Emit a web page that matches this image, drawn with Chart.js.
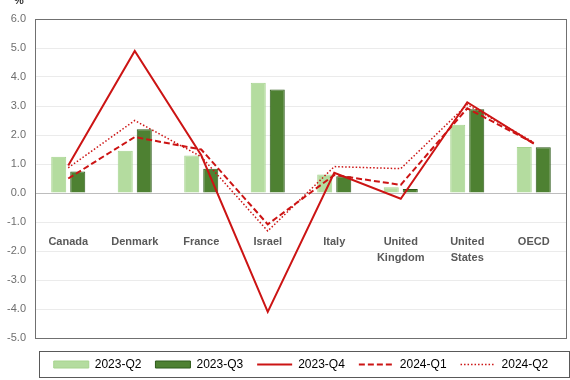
<!DOCTYPE html>
<html><head><meta charset="utf-8">
<script src="https://cdn.jsdelivr.net/npm/chart.js@4/dist/chart.umd.min.js"></script>
<style>html,body{margin:0;padding:0;background:#fff}</style>
</head><body>
<canvas id="c" width="570" height="380"></canvas>
<script>
// ---- data ----
const categories = [["Canada"],["Denmark"],["France"],["Israel"],["Italy"],["United","Kingdom"],["United","States"],["OECD"]];
const seriesNames = ["2023-Q2","2023-Q3","2023-Q4","2024-Q1","2024-Q2"];
const q2_2023 = [1.25, 1.46, 1.29, 3.80, 0.64, 0.20, 2.35, 1.59];
const q3_2023 = [0.74, 2.20, 0.84, 3.57, 0.58, 0.14, 2.89, 1.58];
const q4_2023 = [0.95, 4.90, 1.30, -4.10, 0.70, -0.20, 3.13, 1.70];
const q1_2024 = [0.50, 1.93, 1.50, -1.08, 0.62, 0.28, 2.92, 1.72];
const q2_2024 = [0.87, 2.50, 1.25, -1.31, 0.91, 0.84, 3.05, 1.75];
const yMin = -5, yMax = 6, yStep = 1;
const unitLabel = "%";
const categoryLabelLevel = -1.7;

const GREY = '#595959';
const RED = '#cc1414';

const catLabels = {
  id: 'catLabels',
  beforeDatasetsDraw(chart) {
    const {ctx, scales: {x, y}} = chart;
    ctx.save();
    ctx.font = 'bold 11px "Liberation Sans", Arial, sans-serif';
    ctx.fillStyle = GREY;
    ctx.textAlign = 'center';
    ctx.textBaseline = 'middle';
    const y0 = y.getPixelForValue(categoryLabelLevel);
    categories.forEach((lines, i) => {
      const cx = x.getPixelForValue(i);
      lines.forEach((t, j) => ctx.fillText(t, cx, y0 + j * 16));
    });
    ctx.restore();
  }
};

const frames = {
  id: 'frames',
  afterDraw(chart) {
    const {ctx, chartArea: a, legend} = chart;
    ctx.save();
    ctx.strokeStyle = '#707070';
    ctx.lineWidth = 1;
    ctx.strokeRect(Math.round(a.left) + 0.5, Math.round(a.top) + 0.5, Math.round(a.right - a.left) - 1, Math.round(a.bottom - a.top));
    // legend frame
    ctx.strokeStyle = GREY;
    ctx.strokeRect(Math.round(a.left) + 4.5, Math.round(legend.top) + 6.5, Math.round(a.right - a.left) - 2, 26);
    ctx.font = 'bold 11px "Liberation Sans", Arial, sans-serif';
    ctx.fillStyle = '#333';
    ctx.textAlign = 'center';
    ctx.textBaseline = 'alphabetic';
    ctx.fillText(unitLabel, 19, 4);
    ctx.restore();
  }
};

const legendFit = {
  id: 'legendFit',
  beforeUpdate(chart) {
    const lg = chart.legend;
    if (lg && !lg._patched) {
      const f = lg.fit;
      lg.fit = function () { f.call(this); this.height = 35.5; };
      lg._patched = true;
    }
  }
};

const barCommon = {categoryPercentage: 0.572, barPercentage: 0.79, order: 2, pointStyle: 'rect'};
const lineCommon = {type: 'line', fill: false, pointRadius: 0, pointHoverRadius: 0, tension: 0, order: 1, pointStyle: 'line'};

new Chart(document.getElementById('c'), {
  type: 'bar',
  data: {
    labels: categories.map(l => l.join(' ')),
    datasets: [
      Object.assign({label: seriesNames[0], data: q2_2023, backgroundColor: '#b4dc9f', borderColor: '#a6d38e', borderWidth: 1}, barCommon),
      Object.assign({label: seriesNames[1], data: q3_2023, backgroundColor: '#4e8132', borderColor: '#2d5a1a', borderWidth: 1}, barCommon),
      Object.assign({label: seriesNames[2], data: q4_2023, borderColor: RED, backgroundColor: RED, borderWidth: 2}, lineCommon),
      Object.assign({label: seriesNames[3], data: q1_2024, borderColor: RED, backgroundColor: RED, borderWidth: 2, borderDash: [6, 3]}, lineCommon),
      Object.assign({label: seriesNames[4], data: q2_2024, borderColor: RED, backgroundColor: RED, borderWidth: 1.5, borderDash: [1.5, 2]}, lineCommon)
    ]
  },
  options: {
    responsive: false,
    animation: false,
    layout: {padding: {top: 19, right: 3, left: 0, bottom: 0}},
    scales: {
      x: {
        ticks: {display: false},
        grid: {display: false},
        border: {display: false},
        afterFit(s) { s.height = 6.5; }
      },
      y: {
        min: yMin, max: yMax,
        ticks: {stepSize: yStep, color: '#6e6e6e', padding: 9, font: {size: 11, family: '"Liberation Sans", Arial, sans-serif'},
          callback: v => Number(v).toFixed(1)},
        grid: {drawTicks: false, color: c => (c.tick && c.tick.value === 0) ? '#bdbdbd' : '#ebebeb'},
        border: {display: false},
        afterFit(s) { s.width = 35; }
      }
    },
    plugins: {
      tooltip: {enabled: false},
      legend: {
        position: 'bottom',
        fullSize: false,
        labels: {
          usePointStyle: true,
          pointStyleWidth: 35,
          boxHeight: 7,
          padding: 14,
          color: GREY,
          font: {size: 12, family: '"Liberation Sans", Arial, sans-serif'},
          generateLabels(chart) {
            return chart.data.datasets.map((ds, i) => ({
              text: ds.label,
              fillStyle: ds.backgroundColor,
              strokeStyle: ds.borderColor,
              lineWidth: ds.borderWidth,
              lineDash: ds.borderDash || [],
              pointStyle: ds.type === 'line' ? 'line' : 'rect',
              datasetIndex: i,
              hidden: false
            }));
          }
        }
      }
    }
  },
  plugins: [legendFit, catLabels, frames]
});
</script>
</body></html>
